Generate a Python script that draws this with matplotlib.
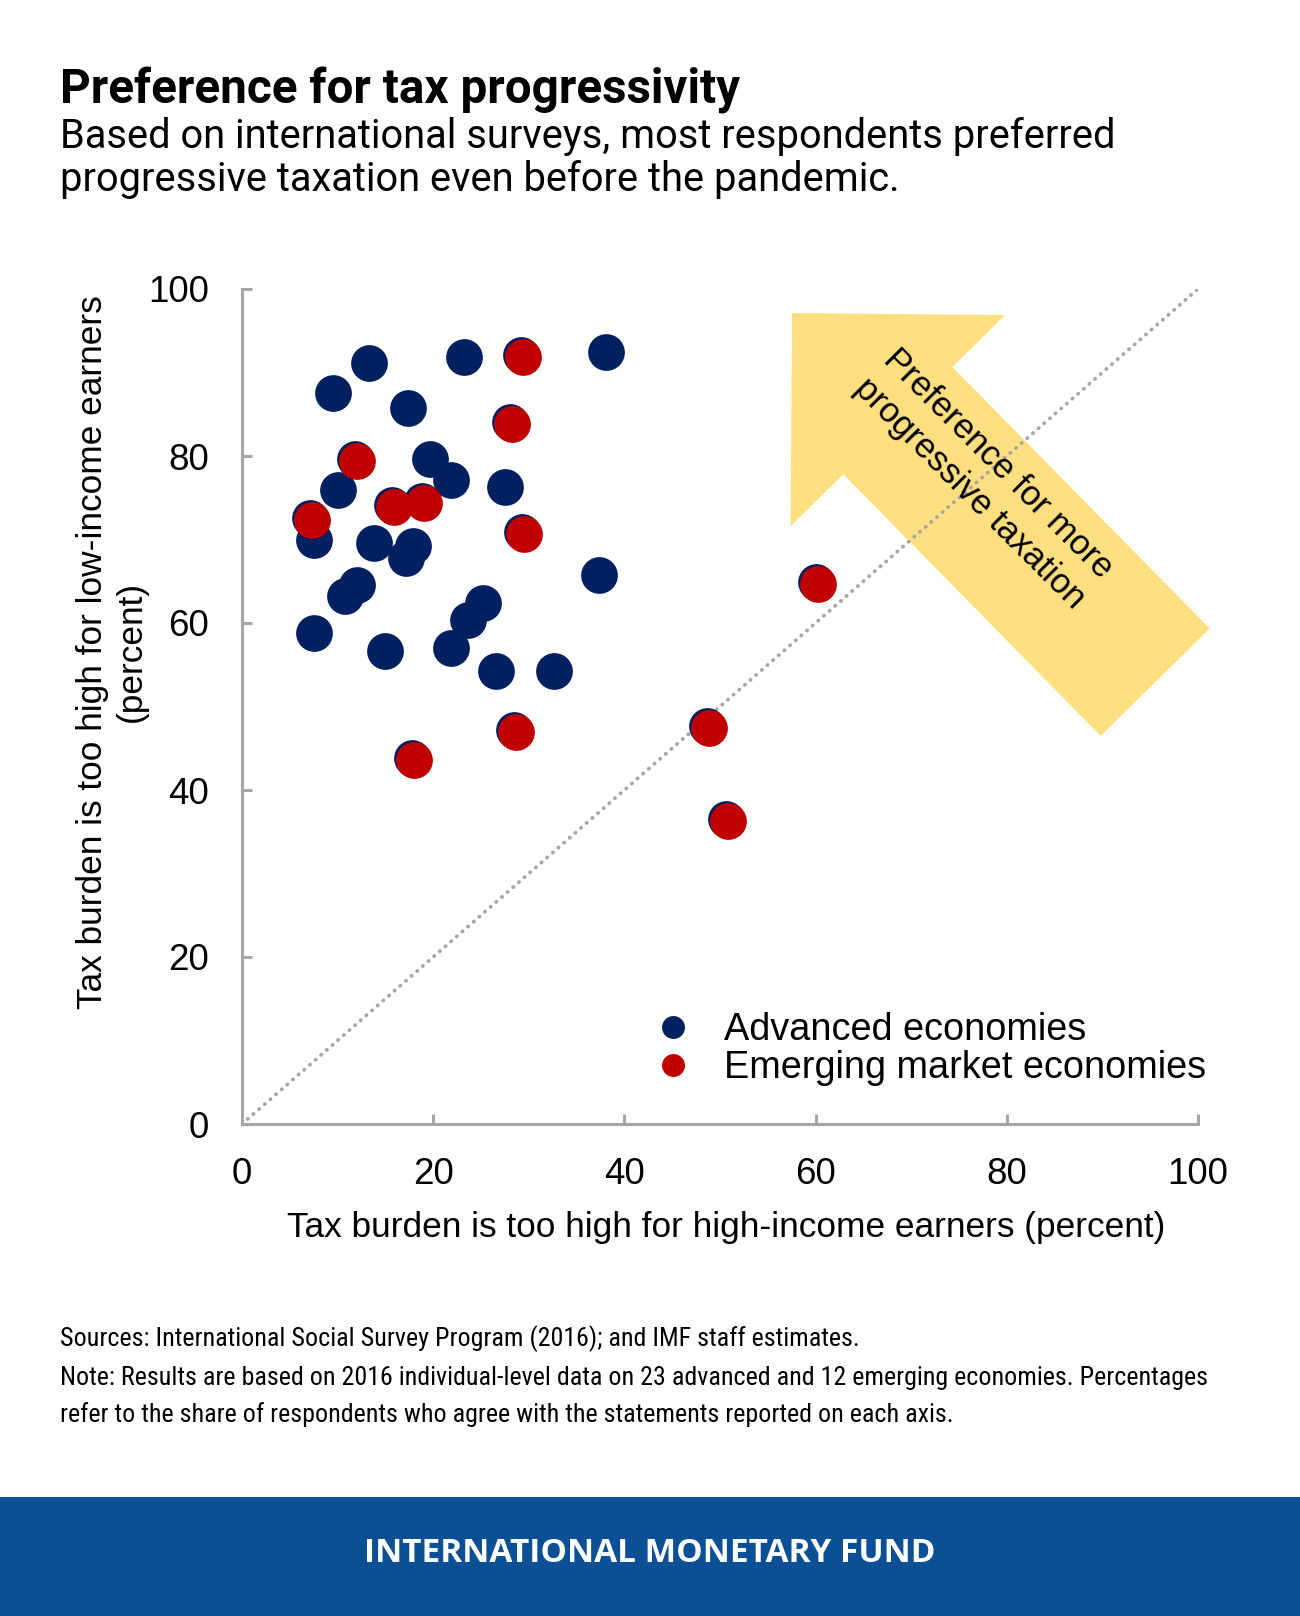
import matplotlib
matplotlib.use('Agg')
import matplotlib.pyplot as plt
import matplotlib.patches as mpatches
import matplotlib.transforms as mtransforms
from matplotlib.lines import Line2D

# survey shares (percent)
adv_x = [13.3, 9.55, 23.2, 38.1, 17.4, 19.7, 21.9, 27.5, 10.0, 7.5, 13.8, 17.9,
         17.2, 37.3, 12.0, 10.8, 25.2, 23.6, 7.5, 15.0, 21.9, 26.6, 32.6]
adv_y = [91.1, 87.6, 91.8, 92.4, 85.7, 79.6, 77.1, 76.3, 75.9, 69.9, 69.6, 69.2,
         67.8, 65.8, 64.6, 63.2, 62.4, 60.3, 58.8, 56.6, 57.0, 54.3, 54.2]
eme_x = [29.4, 28.2, 12.0, 15.9, 19.0, 7.35, 29.5, 28.7, 18.0, 60.2, 48.8, 50.8]
eme_y = [91.8, 83.8, 79.4, 73.9, 74.4, 72.3, 70.7, 46.9, 43.6, 64.7, 47.4, 36.3]

ticks = [0, 20, 40, 60, 80, 100]

NAVY = '#002060'
RED = '#C00000'
GREY = '#A6A6A6'
YELLOW = '#FFDF80'
BAND = '#0B4F94'
CHART_FONT = 'Liberation Sans'

W, H = 1300, 1616


def fx(x):
    return x / W


def fy(y):
    return 1 - y / H


fig = plt.figure(figsize=(W / 100, H / 100), dpi=100, facecolor='white')
ax = fig.add_axes([fx(242), fy(1124), 956 / W, 835 / H])

# big yellow arrow, drawn in inches so it keeps its 45 degree shape
arrow = mpatches.FancyArrow(11.552, 9.338, -3.632, 3.692, width=1.53,
                            head_width=3.01, head_length=1.51,
                            length_includes_head=True, color=YELLOW, lw=0,
                            transform=fig.dpi_scale_trans, clip_on=False, zorder=1)
ax.add_patch(arrow)

ax.plot([0, 100], [0, 100], color=GREY, lw=2.7, ls=(0, (0.1, 1.9)),
        dash_capstyle='round', zorder=2)

ax.scatter(adv_x, adv_y, s=700, color=NAVY, linewidths=0, zorder=3)
shadow = mtransforms.offset_copy(ax.transData, fig=fig, x=-2, y=2, units='dots')
ax.scatter(eme_x, eme_y, s=700, color=NAVY, linewidths=0, zorder=3, transform=shadow)
ax.scatter(eme_x, eme_y, s=700, color=RED, linewidths=0, zorder=4)

ax.set_xlim(0, 100)
ax.set_ylim(0, 100)
ax.set_xticks(ticks)
ax.set_yticks(ticks)
for side in ['top', 'right']:
    ax.spines[side].set_visible(False)
for side in ['left', 'bottom']:
    ax.spines[side].set_color(GREY)
    ax.spines[side].set_linewidth(2.2)
ax.tick_params(direction='in', length=7, width=2.2, color=GREY,
               labelsize=26.5, labelcolor='black')
ax.tick_params(axis='y', pad=24)
ax.tick_params(axis='x', pad=24)
for lab in ax.get_xticklabels() + ax.get_yticklabels():
    lab.set_fontfamily(CHART_FONT)

handles = [Line2D([], [], ls='none', marker='o', ms=16.5, color=NAVY, mew=0),
           Line2D([], [], ls='none', marker='o', ms=16.5, color=RED, mew=0)]
ax.legend(handles, ['Advanced economies', 'Emerging market economies'],
          loc='upper left', bbox_to_anchor=(fx(635), fy(993)),
          bbox_transform=fig.transFigure, frameon=False, borderpad=0,
          handlelength=1.0, handletextpad=0.86, labelspacing=0.06,
          prop={'family': CHART_FONT, 'size': 27.3})

fig.text(fx(984), fy(479), 'Preference for more\nprogressive taxation',
         rotation=-45, rotation_mode='anchor', ha='center', va='center',
         multialignment='left', linespacing=1.3, fontsize=25,
         family=CHART_FONT, color='black')

fig.text(fx(726), fy(1237), 'Tax burden is too high for high-income earners (percent)',
         ha='center', va='baseline', fontsize=25.4, family=CHART_FONT)
fig.text(fx(112), fy(652), 'Tax burden is too high for low-income earners\n(percent)',
         rotation=90, ha='center', va='center', multialignment='center',
         linespacing=1.2, fontsize=25.4, family=CHART_FONT)

fig.text(fx(60), fy(103), 'Preference for tax progressivity',
         fontsize=34.3, fontweight='bold', family='Roboto', va='baseline')
fig.text(fx(60), fy(147.5), 'Based on international surveys, most respondents preferred',
         fontsize=28.7, family='Roboto', va='baseline')
fig.text(fx(60), fy(190.7), 'progressive taxation even before the pandemic.',
         fontsize=28.7, family='Roboto', va='baseline')

note_font = ['Roboto Condensed', 'Liberation Sans Narrow', 'Roboto']
fig.text(fx(60), fy(1346.5),
         'Sources: International Social Survey Program (2016); and IMF staff estimates.',
         fontsize=18.7, family=note_font, va='baseline')
fig.text(fx(60), fy(1384.6),
         'Note: Results are based on 2016 individual-level data on 23 advanced and 12 '
         'emerging economies. Percentages',
         fontsize=18.7, family=note_font, va='baseline')
fig.text(fx(60), fy(1421.7),
         'refer to the share of respondents who agree with the statements reported on each axis.',
         fontsize=18.7, family=note_font, va='baseline')

fig.patches.append(mpatches.Rectangle((0, 0), 1, fy(1497), transform=fig.transFigure,
                                      color=BAND, lw=0, zorder=0))
fig.text(fx(650), fy(1562), 'INTERNATIONAL MONETARY FUND', ha='center', va='baseline',
         fontsize=24, fontweight='bold', family='Open Sans', color='white')

fig.savefig('out.png', dpi=100, facecolor='white')
